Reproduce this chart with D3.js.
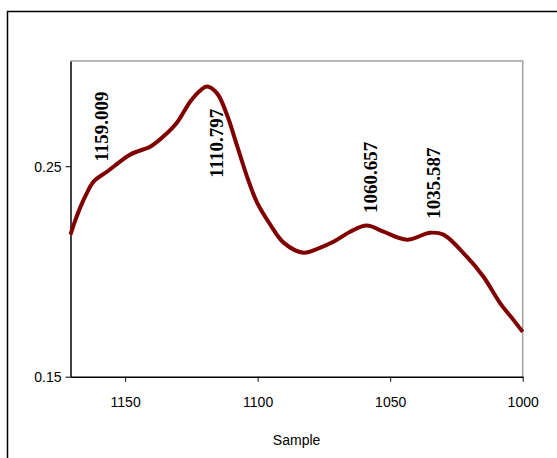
<!DOCTYPE html>
<html><head><meta charset="utf-8">
<script src="https://cdn.jsdelivr.net/npm/d3@7"></script>
<style>body{margin:0;background:#fff}svg{display:block}</style>
</head><body>
<svg id="c" width="557" height="458"></svg>
<script>
const waveNumbers = [1170.6,1168.7,1166.8,1164.9,1161.9,1156.7,1148.0,1140.4,1135.5,1130.4,1125.4,1121.6,1119.1,1115.3,1111.5,1107.8,1104.0,1100.2,1095.2,1090.2,1082.7,1077.0,1071.4,1065.1,1058.8,1052.5,1043.7,1034.9,1029.9,1021.1,1014.8,1008.6,1003.5,1000.0];
const absorbance = [0.2175,0.2246,0.2308,0.2360,0.2427,0.2475,0.2556,0.2594,0.2642,0.2708,0.2808,0.2860,0.2879,0.2846,0.2742,0.2599,0.2451,0.2327,0.2222,0.2137,0.2089,0.2110,0.2141,0.2189,0.2218,0.2189,0.2151,0.2184,0.2175,0.2070,0.1975,0.1851,0.1770,0.1713];
const xTicks = [1150,1100,1050,1000];
const yTicks = [0.15,0.25];
const peakLabels = ["1159.009","1110.797","1060.657","1035.587"];
const peakX = [1156.3,1113.1,1055.1,1031.2];
const peakY = [0.2522,0.2445,0.2278,0.2250];
const xTitle = "Sample";

const svg = d3.select("#c");
const L = 70.5, R = 522.7, T = 61, B = 376.7;
const x = d3.scaleLinear().domain([1170.6,1000]).range([L,R]);
const y = d3.scaleLinear().domain([0.15,0.30]).range([B,T]);

// outer frame
svg.append("rect").attr("x",7.5).attr("y",11.5).attr("width",600).attr("height",500)
  .attr("fill","none").attr("stroke","#000").attr("stroke-width",1.5);

// plot area border (gray)
svg.append("path").attr("d",`M${L},${T}H${R}V${B}`).attr("fill","none").attr("stroke","#a0a0a0").attr("stroke-width",1.5);

// axes
const xa = svg.append("g").attr("transform",`translate(0,${B})`)
  .call(d3.axisBottom(x).tickValues(xTicks).tickFormat(d3.format("d")).tickSize(5).tickSizeOuter(0));
const ya = svg.append("g").attr("transform",`translate(${L},0)`)
  .call(d3.axisLeft(y).tickValues(yTicks).tickFormat(d3.format(".2f")).tickSize(5).tickSizeOuter(0));
[xa,ya].forEach(g=>{
  g.select(".domain").attr("stroke","#000").attr("stroke-width",1.5);
  g.selectAll(".tick line").attr("stroke","#000").attr("stroke-width",1);
  g.selectAll("text").attr("font-family","Liberation Sans, Arial, sans-serif").attr("font-size","14px").attr("fill","#000");
});
xa.selectAll("text").attr("dy","0").attr("y",30);
ya.selectAll("text").attr("x",-9).attr("dy","0.35em");

// line
const data = waveNumbers.map((w,i)=>({w,a:absorbance[i]}));
svg.append("path").datum(data)
  .attr("d",d3.line().x(d=>x(d.w)).y(d=>y(d.a)).curve(d3.curveCatmullRom.alpha(0.5)))
  .attr("fill","none").attr("stroke","#800000").attr("stroke-width",4).attr("stroke-linejoin","round");

// peak labels
peakLabels.forEach((t,i)=>{
  svg.append("text")
    .attr("transform",`translate(${x(peakX[i])},${y(peakY[i])}) rotate(-90)`)
    .attr("text-anchor","start")
    .attr("font-family","Liberation Serif, Times New Roman, serif")
    .attr("font-weight","bold").attr("font-size","19px").attr("fill","#000")
    .text(t);
});

svg.append("text").attr("x",(L+R)/2).attr("y",445).attr("text-anchor","middle")
  .attr("font-family","Liberation Sans, Arial, sans-serif").attr("font-size","14px").text(xTitle);
</script>
</body></html>
